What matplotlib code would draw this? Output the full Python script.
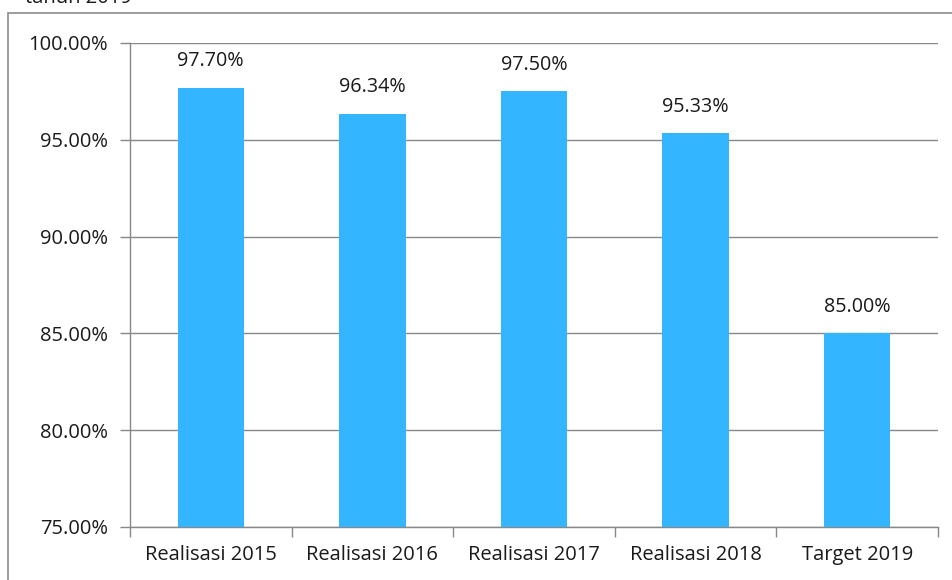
import matplotlib
matplotlib.use("Agg")
import matplotlib.pyplot as plt
from matplotlib.patches import Rectangle

categories = ["Realisasi 2015", "Realisasi 2016", "Realisasi 2017", "Realisasi 2018", "Target 2019"]
values = [97.70, 96.34, 97.50, 95.33, 85.00]
yticks = [75, 80, 85, 90, 95, 100]

plt.rcParams['font.family'] = ['Open Sans', 'DejaVu Sans']

fig = plt.figure(figsize=(9.52, 5.8), dpi=100)
ax = fig.add_axes([130/952, 1-527/580, (938-130)/952, (527-43)/580])

x = list(range(len(categories)))
ax.bar(x, [v - 75 for v in values], bottom=75, width=0.41, color='#33B5FF', zorder=3)
for xi, v in zip(x, values):
    ax.text(xi, v + 0.85, f"{v:.2f}%", ha='center', va='bottom', fontsize=14.2, color='#1a1a1a')

ax.set_xlim(-0.5, len(categories) - 0.5)
ax.set_ylim(75, 100)
ax.set_yticks(yticks)
ax.set_yticklabels([f"{t:.2f}%" for t in yticks], fontsize=14.5, color='#1a1a1a')
ax.set_xticks(x)
ax.set_xticklabels(categories, fontsize=14.5, color='#1a1a1a')
ax.tick_params(axis='x', length=0, pad=13)
ax.tick_params(axis='y', length=7, color='#888888', width=1, pad=9)
ax.set_xticks([i - 0.5 for i in range(len(categories) + 1)], minor=True)
ax.tick_params(axis='x', which='minor', length=7, color='#888888', width=1)
ax.grid(axis='y', color='#888888', linewidth=1, zorder=0)
for s in ['top', 'right']:
    ax.spines[s].set_visible(False)
for s in ['left', 'bottom']:
    ax.spines[s].set_color('#888888')
    ax.spines[s].set_linewidth(1)

fig.patches.append(Rectangle((8/952, -0.1), 1.2, (580-13)/580 + 0.1, transform=fig.transFigure,
                             fill=False, edgecolor='#8c8c8c', linewidth=1.2, figure=fig))
fig.text(25/952, 1 - 3/580, "tahun 2019", fontsize=14.5, ha='left', va='baseline', color='#1a1a1a')

fig.savefig("out.png", dpi=100)
